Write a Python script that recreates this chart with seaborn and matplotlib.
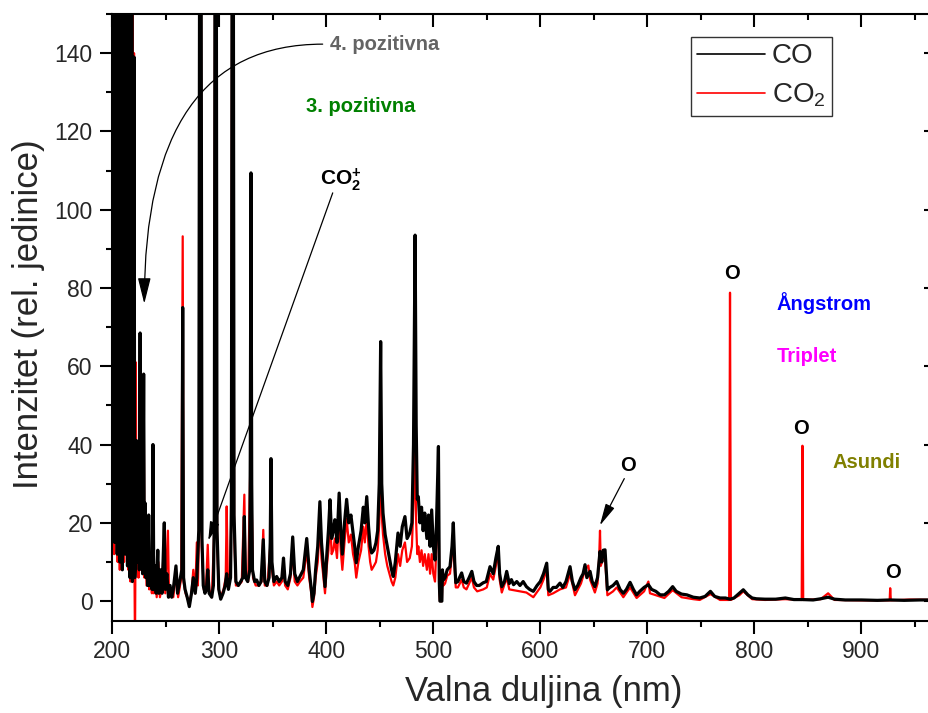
import matplotlib
matplotlib.use("Agg")
import matplotlib.pyplot as plt
from matplotlib.lines import Line2D
from matplotlib.ticker import MultipleLocator
import seaborn as sns
import pandas as pd

# ---------------- data ----------------
co_wavelength = [
    200.0, 200.5, 201.0, 201.6, 202.2, 202.8, 203.4, 204.0, 204.6, 205.2,
    205.8, 206.4, 207.0, 207.6, 208.2, 208.8, 209.4, 210.0, 210.6, 211.2,
    211.8, 212.4, 213.0, 213.6, 214.2, 214.8, 215.4, 216.0, 216.6, 217.2,
    217.8, 218.2, 218.8, 219.4, 220.3, 221.0, 221.8, 222.6, 223.2, 224.2,
    225.2, 226.0, 226.7, 227.5, 228.3, 229.3, 230.0, 230.8, 231.5, 232.3,
    233.0, 234.0, 234.8, 236.0, 237.2, 238.0, 238.8, 240.0, 241.0, 242.5,
    243.5, 245.0, 246.5, 248.6, 249.5, 251.0, 252.5, 254.0, 255.5, 257.0,
    259.5, 261.0, 263.0, 265.0, 265.8, 266.6, 268.0, 270.0, 272.0, 274.0,
    275.7, 277.5, 279.0, 280.8, 282.3, 283.8, 285.0, 286.6, 288.0, 289.2,
    290.5, 292.9, 294.5, 295.3, 296.6, 297.9, 299.5, 301.3, 303.5, 305.5,
    306.9, 308.5, 310.5, 311.3, 312.5, 313.8, 315.5, 317.8, 320.0, 322.0,
    323.4, 324.5, 326.5, 328.5, 329.0, 329.6, 330.3, 331.0, 333.0, 334.9,
    337.0, 339.0, 341.1, 342.5, 344.5, 346.5, 347.6, 348.3, 349.2, 351.0,
    353.6, 356.0, 358.5, 360.0, 361.5, 364.0, 366.5, 368.6, 370.5, 373.0,
    375.4, 378.5, 381.7, 384.0, 386.0, 387.0, 388.5, 390.0, 392.0, 394.0,
    395.5, 397.0, 398.8, 400.5, 402.0, 403.5, 405.0, 406.5, 408.0, 410.0,
    412.0, 413.5, 415.0, 417.0, 419.0, 421.0, 423.0, 425.0, 426.5, 428.0,
    430.0, 432.5, 434.6, 436.0, 437.8, 439.5, 441.0, 442.4, 444.5, 446.4,
    448.0, 449.5, 450.8, 451.8, 453.0, 455.0, 457.0, 459.0, 461.0, 462.6,
    464.5, 467.0, 469.0, 471.0, 473.5, 475.5, 478.0, 480.0, 481.5, 483.0,
    484.0, 485.0, 486.0, 487.5, 489.0, 490.5, 492.0, 494.0, 495.5, 497.0,
    498.5, 500.0, 501.6, 503.0, 504.8, 505.6, 506.2, 508.0, 508.5, 509.4,
    511.0, 513.0, 515.6, 517.5, 518.7, 520.0, 521.0, 523.0, 524.5, 526.5,
    528.5, 531.0, 533.5, 536.0, 538.0, 540.5, 543.0, 546.7, 549.5, 553.0,
    556.0, 558.5, 560.7, 562.0, 564.0, 566.5, 568.6, 571.0, 573.0, 575.0,
    578.0, 581.0, 584.0, 587.0, 590.0, 593.5, 597.0, 600.0, 603.0, 606.0,
    607.5, 609.0, 612.0, 615.0, 618.4, 621.0, 624.0, 627.8, 630.0, 632.4,
    635.0, 638.0, 640.0, 641.8, 643.5, 646.5, 648.5, 651.0, 653.5, 655.8,
    657.5, 658.8, 660.5, 662.7, 665.0, 668.0, 671.4, 674.5, 677.6, 680.5,
    683.9, 687.0, 690.0, 693.0, 697.0, 701.0, 704.0, 708.0, 712.0, 716.0,
    720.0, 723.7, 727.0, 732.0, 737.0, 743.0, 749.0, 754.0, 759.0, 763.0,
    768.0, 773.0, 777.3, 781.0, 786.0, 789.7, 794.0, 798.0, 802.0, 810.0,
    820.0, 829.0, 837.0, 845.0, 855.0, 862.0, 869.0, 875.0, 885.0, 900.0,
    915.0, 927.0, 940.0, 955.0, 970.0,
]
co_intensity = [
    35, 170, 22, 190, 15, 200, 30, 180, 12, 210,
    35, 190, 10, 220, 20, 200, 8, 185, 25, 230,
    12, 195, 30, 175, 9, 205, 18, 160, 6, 190,
    14, 170, 5, 30, 139, 6, 12, 41, 10, 30,
    8, 68.5, 10, 35, 7, 58, 8, 25, 6, 14,
    4, 22, 4, 10, 3, 40, 3, 9, 2, 13,
    2, 8, 2, 20, 3, 7, 1, 4, 1, 3,
    9, 2, 5, 8, 75, 6, 3, 1, -1.4, 2,
    6, 2, 6, 18, 300, 16, 4, 2, 3, 8,
    2, 1, 4, 20, 300, 18, 3, 0.5, 2, 4,
    7, 3, 6, 25, 300, 22, 5, 4, 5, 6,
    21.6, 6, 5, 8, 40, 109.4, 30, 8, 5, 5.4,
    4, 5, 15.7, 5, 4, 6, 15, 36.4, 10, 5,
    6.3, 5, 6, 11, 5, 4, 7, 16.4, 7, 5,
    6.3, 8, 16, 8, 3, -0.1, 2, 8, 14, 25.4,
    15, 10, 3.7, 12, 18, 25.9, 16, 18, 20.8, 15,
    27.6, 18, 12, 20, 26, 20, 22, 17.4, 14, 9.8,
    14, 18, 24, 20, 26.7, 19, 14, 12.3, 13, 14.9,
    18, 30, 66.3, 30, 22.5, 17, 14, 11, 8, 6.3,
    10, 17.4, 14, 19, 21.6, 16, 17.4, 20, 40, 93.5,
    45, 26, 26.7, 20, 24, 18, 22.5, 16, 22, 14,
    23.3, 14, 10.5, 20, 39.5, 5, 0, 0, 8, 5.4,
    6, 8, 8.8, 14, 20, 10, 4.7, 5, 6, 7.2,
    5, 4.6, 6, 7.6, 5, 4, 4, 4.7, 5, 8.8,
    7, 11, 14, 7, 3.7, 5, 7.6, 4.5, 5.5, 4.2,
    5, 4, 5, 3.7, 3, 2.5, 4, 5, 7, 9.7,
    3, 2.5, 3.5, 3.5, 4.6, 3.5, 5, 8.8, 5, 2.9,
    4, 6, 7, 9.3, 6, 7.6, 5, 3.7, 6, 12.7,
    10, 13, 13.1, 2.9, 3.5, 4, 5, 3, 2, 3,
    4.8, 3, 1.6, 2.5, 3.5, 4.2, 3, 2.5, 1.6, 1.6,
    2.5, 3.7, 2.5, 1.8, 1.6, 1.0, 0.8, 1.2, 2.5, 1.2,
    0.8, 0.8, 0.5, 0.8, 2.0, 2.9, 1.6, 0.8, 0.6, 0.5,
    0.5, 0.8, 0.4, 0.4, 0.3, 0.6, 1.0, 0.5, 0.3, 0.3,
    0.2, 0.3, 0.2, 0.3, 0.3,
]

co2_wavelength = [
    200.0, 200.6, 201.2, 201.8, 202.5, 203.2, 204.0, 205.0, 206.0, 207.0,
    208.0, 209.0, 210.0, 211.0, 212.0, 213.0, 214.0, 215.0, 216.0, 217.0,
    218.0, 218.4, 218.7, 219.2, 220.3, 220.8, 221.2, 221.6, 222.0, 222.6,
    223.5, 224.5, 226.0, 226.8, 228.0, 229.3, 230.0, 231.0, 232.0, 233.5,
    234.5, 236.0, 237.0, 238.0, 238.8, 240.0, 241.5, 243.0, 244.5, 246.5,
    248.6, 249.5, 252.0, 253.0, 255.0, 257.0, 259.5, 261.5, 264.5, 265.8,
    266.6, 268.5, 272.0, 274.0, 275.7, 277.5, 279.0, 280.0, 281.2, 282.3,
    283.6, 285.5, 287.5, 289.2, 290.5, 293.0, 295.3, 296.6, 297.9, 299.5,
    301.3, 304.0, 306.0, 306.9, 308.0, 310.0, 311.3, 312.5, 313.8, 315.5,
    318.0, 321.0, 323.4, 324.5, 327.0, 329.0, 329.6, 330.3, 331.5, 334.0,
    337.0, 339.5, 341.1, 342.5, 345.0, 347.6, 348.3, 349.2, 351.0, 353.6,
    356.0, 358.5, 360.0, 361.5, 364.0, 366.5, 368.6, 370.5, 373.0, 375.4,
    378.5, 381.7, 384.0, 386.0, 387.0, 388.5, 390.0, 392.0, 394.0, 395.5,
    397.0, 398.8, 400.5, 402.0, 403.5, 405.0, 406.5, 408.0, 410.0, 412.0,
    413.5, 415.0, 417.0, 419.0, 421.0, 423.0, 425.0, 426.5, 428.0, 430.0,
    432.5, 434.6, 436.0, 437.8, 439.5, 441.0, 442.4, 444.5, 446.4, 448.0,
    449.5, 450.8, 451.8, 453.0, 455.0, 457.0, 459.0, 461.0, 462.6, 464.5,
    467.0, 469.0, 471.0, 473.5, 475.5, 478.0, 480.0, 481.5, 483.0, 484.0,
    485.0, 486.0, 487.5, 489.0, 490.5, 492.0, 494.0, 495.5, 497.0, 498.5,
    500.0, 501.6, 503.0, 504.8, 505.6, 506.2, 508.0, 508.5, 509.4, 511.0,
    513.0, 515.6, 517.5, 518.7, 520.0, 521.0, 523.0, 526.5, 528.5, 531.0,
    533.5, 536.0, 538.0, 541.0, 546.7, 550.0, 553.0, 556.0, 558.5, 560.7,
    562.0, 564.0, 568.6, 571.0, 575.0, 581.0, 587.0, 593.5, 600.0, 603.0,
    606.0, 607.5, 612.0, 618.4, 624.0, 627.8, 632.4, 638.0, 641.8, 644.9,
    646.5, 651.0, 653.5, 655.0, 655.8, 656.5, 658.8, 660.5, 662.7, 668.0,
    671.4, 677.6, 683.9, 690.0, 697.0, 701.0, 702.5, 708.0, 716.0, 723.7,
    732.0, 743.0, 749.0, 759.0, 768.0, 776.5, 777.3, 778.1, 786.0, 789.7,
    798.0, 810.0, 829.0, 844.3, 845.0, 845.7, 862.0, 869.0, 875.0, 900.0,
    926.5, 927.0, 927.6, 945.0, 970.0,
]
co2_intensity = [
    55, 20, 37, 12, 150, 20, 160, 10, 170, 8,
    160, 15, 170, 10, 165, 20, 150, 8, 160, 5,
    120, 10, 200, 8, 140, 5, -12, 10, 61, 8,
    25, 6, 55, 8, 20, 58, 6, 18, 4, 16,
    3, 8, 2, 30, 2, 7, 1, 10, 1, 4,
    17, 2, 18, 1, 3, 1, 7, 1, 6, 93.2,
    5, 2, -0.5, 2, 8, 2, 15, 4, 20, 280,
    14, 3, 3, 14.4, 3, 1, 18, 280, 15, 3,
    1, 3, 6, 24.2, 5, 7, 22, 280, 18, 4,
    4, 5, 27.2, 6, 5, 35, 100, 25, 6, 4,
    4, 5, 18.2, 4, 4, 14, 30, 8, 4, 5,
    4, 5, 9, 4, 3, 6, 13, 5, 4, 5,
    6, 13, 6, 2, -1.5, 1, 6, 10, 20, 11,
    7, 2, 9, 13, 21, 12, 13, 16, 11, 22,
    13, 8, 15, 21, 15, 17, 12, 10, 6, 10,
    13, 19, 15, 21, 14, 10, 8, 9, 10, 13,
    20, 55, 22, 17, 12, 9, 7, 5, 4, 6,
    12, 9, 13, 15, 10, 11, 14, 25, 40, 20,
    12, 14, 10, 13, 9, 12, 8, 12, 7, 12,
    7, 5, 15, 31, 3, 0, 0, 6, 4, 4.5,
    6.5, 7, 12, 18, 8, 3.5, 3.5, 5.5, 3.5, 3,
    4.5, 6, 3.5, 2.5, 3, 3.5, 7, 5.5, 9, 12.5,
    5.5, 2.2, 6, 3, 2.8, 2.5, 2.2, 1, 3.5, 5.5,
    8, 1.5, 2, 3, 3.5, 7, 1.5, 4.5, 8, 9.1,
    5.5, 2.2, 4.5, 11, 18, 9, 11, 11, 1.5, 2.5,
    3.5, 1, 3.5, 0.8, 2.5, 5, 2, 1.5, 0.8, 2.8,
    1, 0.5, 0.3, 1.8, 0.3, 0.3, 78.8, 0.3, 1.5, 2.5,
    0.5, 0.3, 0.5, 0.3, 39.7, 0.3, 0.5, 2, 0.3, 0.2,
    0.2, 3.3, 0.2, 0.4, 0.3,
]

series_labels = ["CO", "CO$_2$"]
x_ticks = [200, 300, 400, 500, 600, 700, 800, 900]
y_ticks = [0, 20, 40, 60, 80, 100, 120, 140]

assert len(co_wavelength) == len(co_intensity)
assert len(co2_wavelength) == len(co2_intensity)

df_co = pd.DataFrame({"wl": co_wavelength, "I": co_intensity})
df_co2 = pd.DataFrame({"wl": co2_wavelength, "I": co2_intensity})

# ---------------- style ----------------
sns.set_style("ticks")
plt.rcParams["font.family"] = ["Liberation Sans", "DejaVu Sans"]
plt.rcParams["mathtext.fontset"] = "custom"
plt.rcParams["mathtext.rm"] = "Liberation Sans"
plt.rcParams["mathtext.it"] = "Liberation Sans:italic"
plt.rcParams["mathtext.bf"] = "Liberation Sans:bold"

W, H = 929, 713
fig = plt.figure(figsize=(W / 100, H / 100), dpi=100)
left_px, right_px, top_px, bot_px = 112.3, 936.2, 14.0, 620.7
ax = fig.add_axes([left_px / W, 1 - bot_px / H,
                   (right_px - left_px) / W, (bot_px - top_px) / H])

sns.lineplot(data=df_co2, x="wl", y="I", ax=ax, color="#ff0000", lw=1.6,
             estimator=None, sort=False, legend=False)
sns.lineplot(data=df_co, x="wl", y="I", ax=ax, color="black", lw=2.3,
             estimator=None, sort=False, legend=False)

ax.set_xlim(200, 970)
ax.set_ylim(-5, 150)
ax.set_xticks(x_ticks)
ax.set_yticks(y_ticks)
ax.xaxis.set_minor_locator(MultipleLocator(50))
ax.yaxis.set_minor_locator(MultipleLocator(10))

for s in ax.spines.values():
    s.set_linewidth(1.5)
    s.set_color("black")
ax.tick_params(axis="both", which="major", labelsize=16.5, width=1.5,
               length=9, direction="out", pad=5, color="black")
ax.tick_params(axis="both", which="minor", width=1.5, length=4.5,
               direction="out", color="black")
ax.tick_params(axis="x", which="both", top=True)
ax.tick_params(axis="y", which="both", right=True)
# top / right ticks point inward
for t in ax.xaxis.get_major_ticks() + ax.xaxis.get_minor_ticks():
    t.tick2line.set_marker(3)
for t in ax.yaxis.get_major_ticks() + ax.yaxis.get_minor_ticks():
    t.tick2line.set_marker(0)

ax.set_xlabel("Valna duljina (nm)", fontsize=25)
ax.set_ylabel("Intenzitet (rel. jedinice)", fontsize=25)
ax.xaxis.label.set_va("center")
ax.yaxis.label.set_va("center")
ax.xaxis.set_label_coords(0.524, -0.1175)
ax.yaxis.set_label_coords(-0.1017, 0.505)

# ---------------- legend ----------------
handles = [Line2D([0], [0], color="black", lw=1.2),
           Line2D([0], [0], color="#ff0000", lw=1.2)]
leg = ax.legend(handles, series_labels, loc="upper left",
                bbox_to_anchor=(690.7 / W, 1 - 37.3 / H),
                bbox_transform=fig.transFigure, borderaxespad=0,
                fontsize=20, handlelength=2.45, handletextpad=0.25,
                borderpad=0.22, labelspacing=0.45, frameon=True,
                fancybox=False, shadow=False)
leg.get_frame().set_edgecolor("black")
leg.get_frame().set_linewidth(1.0)

# ---------------- annotations ----------------
bold = dict(fontweight="bold", fontsize=14.5)
ax.text(403.5, 142.2, "4. pozitivna", color="#646464", ha="left", va="center", **bold)
ax.annotate("", xy=(229.9, 76.0), xytext=(396.6, 142.3),
            arrowprops=dict(arrowstyle="-|>,head_length=1.6,head_width=0.4",
                            mutation_scale=10, color="black", lw=0.9,
                            shrinkA=0, shrinkB=0,
                            connectionstyle="angle3,angleA=0,angleB=90"))
ax.text(381.0, 126.3, "3. pozitivna", color="#008000", ha="left", va="center", **bold)
ax.text(394.0, 107.7, r"$\mathbf{CO}_{\mathbf{2}}^{\mathbf{+}}$", color="black",
        ha="left", va="center", fontsize=15)
ax.annotate("", xy=(289.7, 15.5), xytext=(406.0, 104.3),
            arrowprops=dict(arrowstyle="-|>,head_length=1.15,head_width=0.3",
                            mutation_scale=10, color="black", lw=0.9,
                            shrinkA=0, shrinkB=0))
ax.text(682.2, 34.6, "O", color="black", ha="center", va="center", **bold)
ax.annotate("", xy=(655.6, 19.3), xytext=(678.5, 31.3),
            arrowprops=dict(arrowstyle="-|>,head_length=1.35,head_width=0.3",
                            mutation_scale=10, color="black", lw=0.9,
                            shrinkA=0, shrinkB=0))
ax.text(778.9, 83.6, "O", color="black", ha="center", va="center", **bold)
ax.text(843.6, 44.1, "O", color="black", ha="center", va="center", **bold)
ax.text(929.3, 7.2, "O", color="black", ha="center", va="center", **bold)
ax.text(820.9, 76.2, "Ångstrom", color="#0000ff", ha="left", va="center", **bold)
ax.text(820.9, 62.5, "Triplet", color="#ff00ff", ha="left", va="center", **bold)
ax.text(872.9, 35.5, "Asundi", color="#808000", ha="left", va="center", **bold)

fig.savefig("out.png", dpi=100)
